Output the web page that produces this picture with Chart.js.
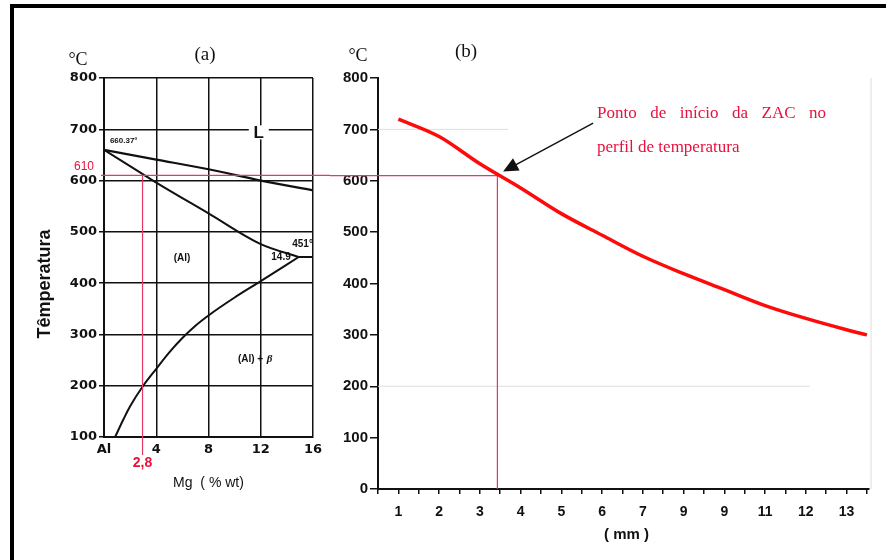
<!DOCTYPE html>
<html>
<head>
<meta charset="utf-8">
<script src="https://cdn.jsdelivr.net/npm/chart.js"></script>
<style>
  body { margin: 0; background: #fff; }
  #wrap { position: relative; width: 886px; height: 560px; overflow: hidden; background: #fff; }
  #frame { position: absolute; left: 10px; top: 4px; width: 900px; height: 600px; border-top: 4px solid #000; border-left: 4px solid #000; }
  canvas { position: absolute; top: 0; }
  #phaseChart { left: 0; }
  #profileChart { left: 330px; }
</style>
</head>
<body>
<div id="wrap">
  <div id="frame"></div>
  <canvas id="phaseChart" width="330" height="560"></canvas>
  <canvas id="profileChart" width="556" height="560"></canvas>
</div>

<script>
    // (a) Al-Mg phase diagram
    const mgTicks = [0, 4, 8, 12, 16];
    const mgTickLabels = ['Al', '4', '8', '12', '16'];
    const liquidusMg = [0, 4, 8, 12, 16];
    const liquidusT = [660, 641, 622, 600, 581];
    const solidusMg = [0, 3, 4, 8, 12, 14.9];
    const solidusT = [660, 612, 596, 536, 476, 451];
    const eutecticMg = [14.9, 16];
    const eutecticT = [451, 451];
    const solvusMg = [0.85, 1.5, 2, 3, 4, 5, 6, 7, 8, 10, 12, 14.9];
    const solvusT = [100, 135, 160, 200, 233, 265, 293, 317, 337, 372, 404, 451];

    // (b) temperature profile along the distance (mm)
    const distMm = [1, 2, 3, 4, 5, 6, 7, 8, 9, 10, 11, 12, 12.5];
    const profileT = [720, 686, 633, 586, 536, 494, 453, 419, 388, 357, 332, 310, 300];
    const distTicks = [0.5, 1, 1.5, 2, 2.5, 3, 3.5, 4, 4.5, 5, 5.5, 6, 6.5, 7, 7.5, 8, 8.5, 9, 9.5, 10, 10.5, 11, 11.5, 12, 12.5];
    const distTickLabels = ['1', '2', '3', '4', '5', '6', '7', '9', '9', '11', '12', '13'];

    // start of the heat affected zone
    const zacTemp = 610;
    const zacMg = 2.95;
    const zacDist = 3.43;

    const RED_LINE = '#e23a62';
    const RED_TEXT = '#e8103c';

    function pts(xs, ys) {
        return xs.map((x, i) => ({ x: x, y: ys[i] }));
    }

    function curve(xs, ys, color, width) {
        return {
            data: pts(xs, ys),
            showLine: true,
            borderColor: color,
            borderWidth: width,
            pointRadius: 0,
            cubicInterpolationMode: 'monotone'
        };
    }

    function text(ctx, str, x, y, font, color, align) {
        ctx.font = font;
        ctx.fillStyle = color || '#111';
        ctx.textAlign = align || 'center';
        ctx.textBaseline = 'middle';
        ctx.fillText(str, x, y);
    }

    // labels, red guide lines for (a)
    const phaseDecor = {
        id: 'phaseDecor',
        afterDatasetsDraw(chart) {
            const { ctx, scales: { x, y } } = chart;
            const yz = y.getPixelForValue(zacTemp);
            const xz = x.getPixelForValue(zacMg);
            ctx.save();
            ctx.strokeStyle = RED_LINE;
            ctx.lineWidth = 1.2;
            ctx.beginPath();
            ctx.moveTo(x.left - 3, yz);
            ctx.lineTo(chart.width, yz);
            ctx.moveTo(xz, yz);
            ctx.lineTo(xz, y.bottom + 18);
            ctx.stroke();

            // white gap behind "L"
            const lx = x.getPixelForValue(11.85), ly = y.getPixelForValue(694);
            ctx.fillStyle = '#fff';
            ctx.fillRect(lx - 10, ly - 7, 20, 14);
            text(ctx, 'L', lx, ly + 1, 'bold 17px "Liberation Sans"');

            text(ctx, '660.37°', x.getPixelForValue(0.45), y.getPixelForValue(677), 'bold 8px "Liberation Sans"', '#111', 'left');
            text(ctx, '(Al)', x.getPixelForValue(5.97), y.getPixelForValue(448), 'bold 10px "Liberation Sans"');
            text(ctx, '14.9', x.getPixelForValue(13.55), y.getPixelForValue(450), 'bold 10px "Liberation Sans"');
            text(ctx, '451°', x.getPixelForValue(15.2), y.getPixelForValue(476), 'bold 10px "Liberation Sans"');
            text(ctx, '(Al) + ', x.getPixelForValue(12.4), y.getPixelForValue(252), 'bold 10px "Liberation Sans"', '#111', 'right');
            text(ctx, 'β', x.getPixelForValue(12.45), y.getPixelForValue(252), 'italic bold 11px "Liberation Serif"', '#111', 'left');

            text(ctx, '610', 84, yz - 9, '12px "Liberation Sans"', RED_TEXT);
            text(ctx, '2,8', xz, y.bottom + 26, 'bold 14px "Liberation Sans"', RED_TEXT);

            text(ctx, '°C', 78, 60, '18px "Liberation Serif"');
            text(ctx, '(a)', 205, 55, '19px "Liberation Serif"');
            text(ctx, 'Mg  ( % wt)', (x.left + x.right) / 2, 483, '14px "Liberation Sans"');

            ctx.save();
            ctx.translate(45, 284);
            ctx.rotate(-Math.PI / 2);
            text(ctx, 'Têmperatura', 0, 0, 'bold 18px "Liberation Sans"');
            ctx.restore();
            ctx.restore();
        }
    };

    new Chart(document.getElementById('phaseChart'), {
        type: 'scatter',
        data: {
            datasets: [
                curve(liquidusMg, liquidusT, '#111', 2.2),
                curve(solidusMg, solidusT, '#111', 2),
                curve(eutecticMg, eutecticT, '#111', 2),
                curve(solvusMg, solvusT, '#111', 2)
            ]
        },
        options: {
            responsive: false,
            animation: false,
            devicePixelRatio: 1,
            layout: { padding: { left: 0, right: 17, top: 78, bottom: 93 } },
            plugins: { legend: { display: false }, tooltip: { enabled: false } },
            scales: {
                x: {
                    type: 'linear',
                    min: 0,
                    max: 16,
                    afterBuildTicks: s => { s.ticks = mgTicks.map(v => ({ value: v })); },
                    afterFit: s => { s.height = 30; },
                    ticks: {
                        callback: v => mgTickLabels[mgTicks.indexOf(v)],
                        font: { family: 'DejaVu Sans', weight: 'bold', size: 13 },
                        color: '#111',
                        padding: 5,
                        maxRotation: 0,
                        autoSkip: false
                    },
                    grid: { color: '#111', lineWidth: 1.5, drawTicks: false },
                    border: { color: '#111', width: 2 }
                },
                y: {
                    min: 100,
                    max: 800,
                    afterFit: s => { s.width = 104; },
                    ticks: {
                        stepSize: 100,
                        font: { family: 'DejaVu Sans', weight: 'bold', size: 13 },
                        color: '#111',
                        padding: 2
                    },
                    grid: { color: '#111', lineWidth: 1.5, tickLength: 5 },
                    border: { color: '#111', width: 2 }
                }
            }
        },
        plugins: [phaseDecor]
    });

    // guide lines, arrow and note for (b)
    const profileDecor = {
        id: 'profileDecor',
        beforeDatasetsDraw(chart) {
            const { ctx, scales: { x, y } } = chart;
            ctx.save();
            ctx.strokeStyle = '#dedede';
            ctx.lineWidth = 1;
            ctx.beginPath();
            ctx.moveTo(x.left, y.getPixelForValue(700));
            ctx.lineTo(x.getPixelForValue(3.7), y.getPixelForValue(700));
            ctx.moveTo(x.left, y.getPixelForValue(200));
            ctx.lineTo(x.getPixelForValue(11.1), y.getPixelForValue(200));
            ctx.moveTo(x.getPixelForValue(12.6), y.getPixelForValue(800));
            ctx.lineTo(x.getPixelForValue(12.6), y.getPixelForValue(0));
            ctx.stroke();

            const yz = y.getPixelForValue(zacTemp);
            const xz = x.getPixelForValue(zacDist);
            ctx.strokeStyle = RED_LINE;
            ctx.lineWidth = 1.2;
            ctx.beginPath();
            ctx.moveTo(0, yz);
            ctx.lineTo(xz, yz);
            ctx.lineTo(xz, y.bottom);
            ctx.stroke();
            ctx.restore();
        },
        afterDraw(chart) {
            const { ctx, scales: { x, y } } = chart;
            ctx.save();
            // arrow
            const x0 = x.getPixelForValue(5.78), y0 = y.getPixelForValue(712);
            const x1 = x.getPixelForValue(3.57), y1 = y.getPixelForValue(618);
            const a = Math.atan2(y1 - y0, x1 - x0);
            ctx.strokeStyle = '#111';
            ctx.fillStyle = '#111';
            ctx.lineWidth = 1.4;
            ctx.beginPath();
            ctx.moveTo(x0, y0);
            ctx.lineTo(x1 - 10 * Math.cos(a), y1 - 10 * Math.sin(a));
            ctx.stroke();
            ctx.beginPath();
            ctx.moveTo(x1, y1);
            ctx.lineTo(x1 - 15 * Math.cos(a) + 7 * Math.sin(a), y1 - 15 * Math.sin(a) - 7 * Math.cos(a));
            ctx.lineTo(x1 - 15 * Math.cos(a) - 7 * Math.sin(a), y1 - 15 * Math.sin(a) + 7 * Math.cos(a));
            ctx.closePath();
            ctx.fill();

            // note, first line justified
            ctx.font = '17px "Liberation Serif"';
            ctx.fillStyle = RED_TEXT;
            ctx.textAlign = 'left';
            ctx.textBaseline = 'middle';
            const words = ['Ponto', 'de', 'início', 'da', 'ZAC', 'no'];
            const left = 267, right = 496;
            const widths = words.map(w => ctx.measureText(w).width);
            const gap = (right - left - widths.reduce((s, w) => s + w, 0)) / (words.length - 1);
            let tx = left;
            words.forEach((w, i) => { ctx.fillText(w, tx, 114); tx += widths[i] + gap; });
            ctx.fillText('perfil de temperatura', left, 148);

            text(ctx, '°C', 28, 56, '18px "Liberation Serif"');
            text(ctx, '(b)', 136, 52, '19px "Liberation Serif"');
            text(ctx, '( mm )', (x.left + x.right) / 2 + 3, 535, 'bold 15px "Liberation Sans"');
            ctx.restore();
        }
    };

    new Chart(document.getElementById('profileChart'), {
        type: 'scatter',
        data: {
            datasets: [curve(distMm, profileT, '#ff0a0a', 3.5)]
        },
        options: {
            responsive: false,
            animation: false,
            devicePixelRatio: 1,
            layout: { padding: { left: 0, right: 17, top: 78, bottom: 31 } },
            plugins: { legend: { display: false }, tooltip: { enabled: false } },
            scales: {
                x: {
                    type: 'linear',
                    min: 0.5,
                    max: 12.55,
                    afterBuildTicks: s => { s.ticks = distTicks.map(v => ({ value: v })); },
                    afterFit: s => { s.height = 40; },
                    ticks: {
                        callback: v => Number.isInteger(v) ? distTickLabels[v - 1] : '',
                        font: { family: 'Liberation Sans', weight: 'bold', size: 14 },
                        color: '#111',
                        padding: 10,
                        maxRotation: 0,
                        autoSkip: false
                    },
                    grid: { drawOnChartArea: false, color: '#111', lineWidth: 1.5, tickLength: 5 },
                    border: { color: '#111', width: 2 }
                },
                y: {
                    min: 0,
                    max: 800,
                    afterFit: s => { s.width = 48; },
                    ticks: {
                        stepSize: 100,
                        font: { family: 'Liberation Sans', weight: 'bold', size: 15 },
                        color: '#111',
                        padding: 2
                    },
                    grid: { drawOnChartArea: false, color: '#111', lineWidth: 1.5, tickLength: 8 },
                    border: { color: '#111', width: 2 }
                }
            }
        },
        plugins: [profileDecor]
    });
</script>
</body>
</html>
